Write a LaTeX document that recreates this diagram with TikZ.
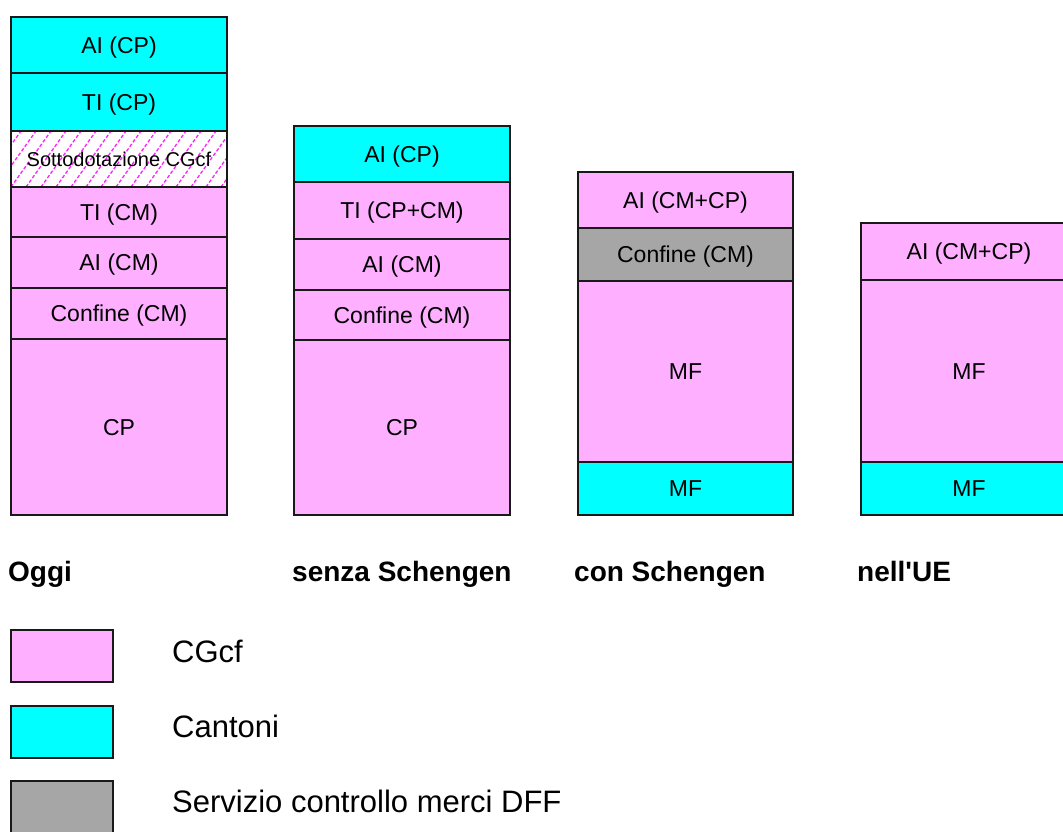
\documentclass[tikz,border=0pt]{standalone}
\usepackage{fontspec}
\setmainfont{Liberation Sans}[Ligatures=TeXOff]
\definecolor{pinkc}{HTML}{FFAFFF}
\definecolor{cyanc}{HTML}{00FFFF}
\definecolor{grayc}{HTML}{A6A6A6}
\definecolor{hatchc}{HTML}{FF22FF}
\begin{document}
\begin{tikzpicture}[x=1pt,y=-1pt,
  cell/.style={draw=black!90, line width=1.4pt, anchor=north west, inner sep=0pt, outer sep=0pt,
    minimum width=216pt, font=\fontsize{23}{27}\selectfont, text height=16.5pt, text depth=0pt},
  pinkcell/.style={cell, fill=pinkc},
  cyancell/.style={cell, fill=cyanc},
  graycell/.style={cell, fill=grayc},
  hatchcell/.style={cell, fill=white, font=\fontsize{20}{24}\selectfont, text height=14.3pt,
    path picture={
      \foreach \i in {-5,...,16}
        \draw[hatchc, line width=1.3pt, dash pattern=on 3.5pt off 2pt]
          ([xshift=\i*15pt]path picture bounding box.south west) -- ++(40pt,56pt);
    }},
  caption/.style={anchor=base west, inner sep=0pt, font=\fontsize{28}{32}\selectfont\bfseries},
  legbox/.style={draw=black!90, line width=1.4pt, anchor=north west, inner sep=0pt, outer sep=0pt,
    minimum width=102pt, minimum height=52pt},
  legtext/.style={anchor=base west, inner sep=0pt, font=\fontsize{31}{36}\selectfont}
]
\useasboundingbox (0,0) rectangle (1063,831);
\fill[white] (0,0) rectangle (1063,831);

% Column 1: Oggi
\node[cyancell, minimum height=56pt]  (a1) at (11,17)  {AI (CP)};
\node[cyancell, minimum height=58pt]  (a2) at (11,73)  {TI (CP)};
\node[hatchcell, minimum height=56pt] (a3) at (11,131) {Sottodotazione CGcf};
\node[pinkcell, minimum height=50pt]  (a4) at (11,187) {TI (CM)};
\node[pinkcell, minimum height=51pt]  (a5) at (11,237) {AI (CM)};
\node[pinkcell, minimum height=51pt]  (a6) at (11,288) {Confine (CM)};
\node[pinkcell, minimum height=176pt] (a7) at (11,339) {CP};

% Column 2: senza Schengen
\node[cyancell, minimum height=56pt]  (b1) at (294,126) {AI (CP)};
\node[pinkcell, minimum height=57pt]  (b2) at (294,182) {TI (CP+CM)};
\node[pinkcell, minimum height=51pt]  (b3) at (294,239) {AI (CM)};
\node[pinkcell, minimum height=50pt]  (b4) at (294,290) {Confine (CM)};
\node[pinkcell, minimum height=175pt] (b5) at (294,340) {CP};

% Column 3: con Schengen
\node[pinkcell, minimum width=215pt, minimum height=56pt]  (c1) at (578,172) {AI (CM+CP)};
\node[graycell, minimum width=215pt, minimum height=53pt]  (c2) at (578,228) {Confine (CM)};
\node[pinkcell, minimum width=215pt, minimum height=181pt] (c3) at (578,281) {MF};
\node[cyancell, minimum width=215pt, minimum height=53pt]  (c4) at (578,462) {MF};

% Column 4: nell'UE
\node[pinkcell, minimum height=57pt]  (d1) at (861,223) {AI (CM+CP)};
\node[pinkcell, minimum height=182pt] (d2) at (861,280) {MF};
\node[cyancell, minimum height=53pt]  (d3) at (861,462) {MF};

% Captions
\node[caption] (t1) at (8,581)   {Oggi};
\node[caption] (t2) at (292,581) {senza Schengen};
\node[caption] (t3) at (574,581) {con Schengen};
\node[caption] (t4) at (857,581) {nell'UE};

% Legend
\node[legbox, fill=pinkc] (l1) at (11,630) {};
\node[legbox, fill=cyanc] (l2) at (11,706) {};
\node[legbox, fill=grayc] (l3) at (11,781) {};
\node[legtext] (lt1) at (172,662) {CGcf};
\node[legtext] (lt2) at (172,737) {Cantoni};
\node[legtext] (lt3) at (172,812) {Servizio controllo merci DFF};
\end{tikzpicture}
\end{document}
